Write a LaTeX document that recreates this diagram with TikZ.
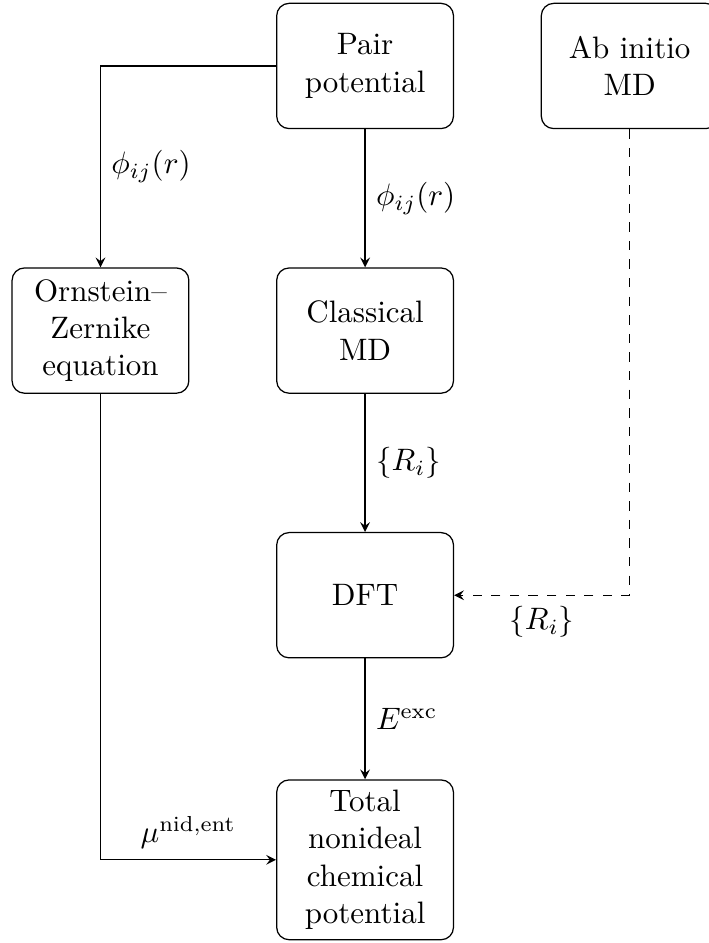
\documentclass[tikz,border=0pt]{standalone}
\usepackage{tikz}
\usepackage{amsmath}
\usepackage{amssymb}

\tikzset{bloc/.style={draw, rounded corners, text width=1.77cm, align=center, minimum height=1.42cm}}

\begin{document}
\begin{tikzpicture}[>=stealth]
	\useasboundingbox (-1.139, 0.748) rectangle (6.888, -9.943);
	\node[bloc] (pair) at (3, 0) {Pair\\potential};
	\node[bloc] (abinitio) at (6, 0) {Ab initio\\MD};
	\node[bloc] (oz) at (0, -3) {Ornstein--\\Zernike\\equation};
	\node[bloc] (classical) at (3, -3) {Classical\\MD};
	\node[bloc] (dft) at (3, -6) {DFT};
	\node[bloc] (total) at (3, -9) {Total\\nonideal\\chemical\\potential};
	\draw[->] (pair.west) -| (oz.north) node[pos=0.75, right] {$\phi_{ij}(r)$};
	\draw[->] (pair) -- (classical) node[midway, right] {$\phi_{ij}(r)$};
	\draw[->] (classical) -- (dft) node[midway, right] {$\{R_i\}$};
	\draw[->, dashed] (abinitio.south) |- (dft.east) node[pos=0.75, below] {$\{R_i\}$};
	\draw[->] (dft) -- (total) node[midway, right] {$E^{\text{exc}}$};
	\draw[->] (oz.south) |- (total.west) node[pos=0.75, above] {$\mu^{\text{nid,ent}}$};
\end{tikzpicture}
\end{document}
